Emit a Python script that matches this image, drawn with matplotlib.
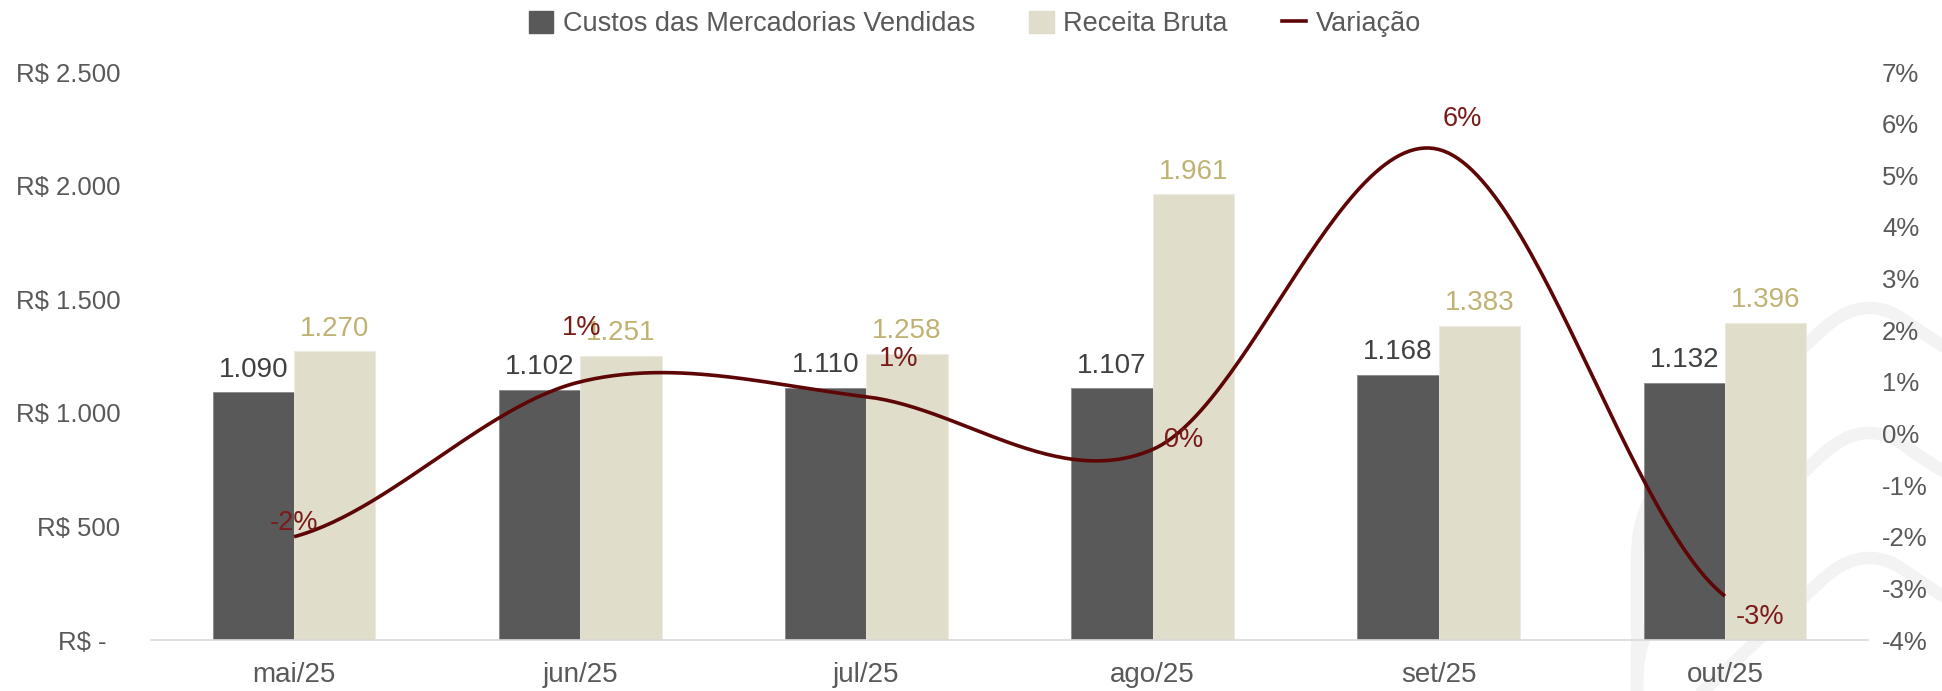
import matplotlib.pyplot as plt
import numpy as np
from matplotlib.patches import Patch, PathPatch
from matplotlib.lines import Line2D
from matplotlib.path import Path
from matplotlib.ticker import FuncFormatter

plt.rcParams['font.family'] = ['Liberation Sans', 'DejaVu Sans']

# Data
meses = ['mai/25', 'jun/25', 'jul/25', 'ago/25', 'set/25', 'out/25']
cmv = [1090, 1102, 1110, 1107, 1168, 1132]
receita = [1270, 1251, 1258, 1961, 1383, 1396]
variacao = [-0.0200, 0.0100, 0.0071, -0.0031, 0.0550, -0.0315]

# label offsets for the variation values (points)
var_offsets = [(0, 10), (1, 39), (23, 27), (22, 7), (17, 22), (25, -15)]

W, H = 1942, 691
fig = plt.figure(figsize=(W / 100, H / 100), dpi=100)
ax = fig.add_axes([151 / W, (H - 640) / H, (1868 - 151) / W, (640 - 72) / H])
ax.patch.set_visible(False)

# watermark chevrons behind the chart
for k in range(3):
    ya = 298 + 125 * k
    pts = [(1637, 720), (1637, ya + 260), (1637, ya + 205), (1672, ya + 172),
           (1822, ya + 32), (1867, ya - 10), (1912, ya + 28), (2000, ya + 85)]
    codes = [Path.MOVETO, Path.LINETO, Path.CURVE3, Path.CURVE3,
             Path.LINETO, Path.CURVE3, Path.CURVE3, Path.LINETO]
    verts = [(x / W, 1 - y / H) for x, y in pts]
    fig.add_artist(PathPatch(Path(verts, codes), fill=False, edgecolor='#F3F3F3',
                             lw=9, transform=fig.transFigure, zorder=-5,
                             capstyle='round', joinstyle='round'))

x = np.arange(len(meses))
bw = 0.284
c_dark = '#595959'
c_light = '#E0DDCA'
c_line = '#5E0606'

ax.bar(x - bw / 2, cmv, bw, color=c_dark, edgecolor='#8A8A8A', lw=0.6, zorder=2)
ax.bar(x + bw / 2, receita, bw, color=c_light, edgecolor='#ECEADF', lw=0.6, zorder=2)

for i in range(len(meses)):
    ax.annotate(f"{cmv[i]:,}".replace(',', '.'), (x[i] - bw / 2, cmv[i]),
                xytext=(0, 7), textcoords='offset points', ha='center', va='bottom',
                fontsize=20, color='#404040', zorder=5)
    ax.annotate(f"{receita[i]:,}".replace(',', '.'), (x[i] + bw / 2, receita[i]),
                xytext=(0, 7), textcoords='offset points', ha='center', va='bottom',
                fontsize=20, color='#BFB272', zorder=5)

ax.set_xlim(-0.5, len(meses) - 0.5)
ax.set_ylim(0, 2500)
ax.set_yticks(np.arange(0, 2501, 500))


def brl(v, pos):
    if v == 0:
        return 'R$ -  '
    return 'R$ ' + f"{int(v):,}".replace(',', '.')


ax.yaxis.set_major_formatter(FuncFormatter(brl))
ax.set_xticks(x)
ax.set_xticklabels(meses)
ax.tick_params(axis='x', length=0, pad=16, labelsize=20, labelcolor='#595959')
ax.tick_params(axis='y', length=0, pad=22, labelsize=18.5, labelcolor='#595959')
for s in ['top', 'right', 'left']:
    ax.spines[s].set_visible(False)
ax.spines['bottom'].set_color('#D9D9D9')
ax.spines['bottom'].set_linewidth(1.2)

# secondary axis with smoothed line
ax2 = ax.twinx()
ax2.set_ylim(-0.04, 0.07)
ax2.set_yticks(np.arange(-0.04, 0.0701, 0.01))
ax2.yaxis.set_major_formatter(FuncFormatter(lambda v, p: f"{int(round(v * 100))}%"))
ax2.tick_params(axis='y', length=0, pad=10, labelsize=18.5, labelcolor='#595959')
for s in ['top', 'right', 'left', 'bottom']:
    ax2.spines[s].set_visible(False)

# Catmull-Rom style smoothing between points (like Excel smoothed line)
p = np.array(variacao)
n = len(p)
tang = np.zeros(n)
for i in range(n):
    if i == 0:
        tang[i] = (p[1] - p[0]) / 2
    elif i == n - 1:
        tang[i] = (p[-1] - p[-2]) / 2
    else:
        tang[i] = (p[i + 1] - p[i - 1]) / 2
xs, ys = [], []
for i in range(n - 1):
    t = np.linspace(0, 1, 60)
    h00 = 2 * t**3 - 3 * t**2 + 1
    h10 = t**3 - 2 * t**2 + t
    h01 = -2 * t**3 + 3 * t**2
    h11 = t**3 - t**2
    xs.extend(x[i] + t)
    ys.extend(h00 * p[i] + h10 * tang[i] + h01 * p[i + 1] + h11 * tang[i + 1])
ax2.plot(xs, ys, color=c_line, lw=2.6, zorder=4, solid_capstyle='butt')

for i in range(n):
    ax2.annotate(f"{int(round(variacao[i] * 100))}%", (x[i], variacao[i]),
                 xytext=var_offsets[i], textcoords='offset points', ha='center',
                 va='center', fontsize=19.5, color='#7A1A1A', zorder=6)

handles = [Patch(facecolor=c_dark, edgecolor=c_dark),
           Patch(facecolor=c_light, edgecolor=c_light),
           Line2D([0], [0], color=c_line, lw=2.6)]
labels = ['Custos das Mercadorias Vendidas', 'Receita Bruta', 'Variação']
leg = fig.legend(handles, labels, loc='center', bbox_to_anchor=(975 / W, 1 - 24 / H),
                 ncol=3, frameon=False, fontsize=19.5, handlelength=0.9, handleheight=0.9,
                 handletextpad=0.35, columnspacing=2.0, labelcolor='#595959')

fig.savefig('out.png', dpi=100)
